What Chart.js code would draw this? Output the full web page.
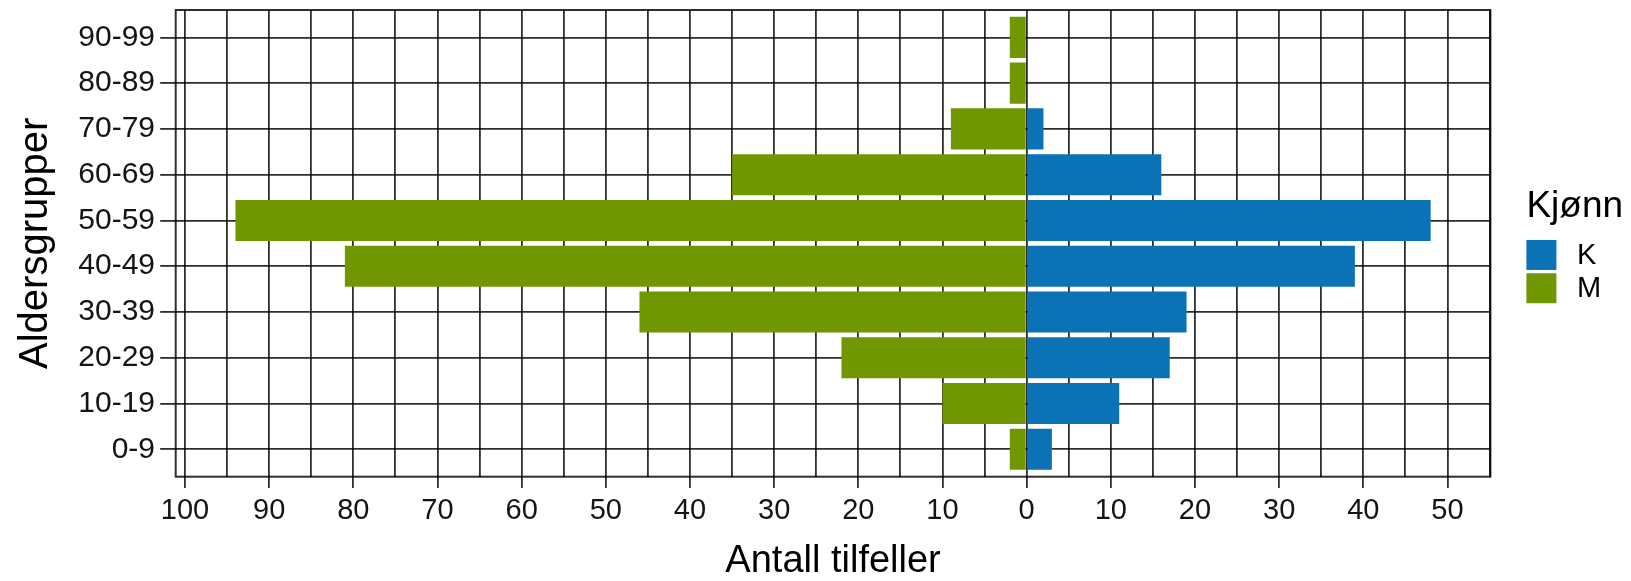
<!DOCTYPE html>
<html>
<head>
<meta charset="utf-8">
<title>Aldersgrupper</title>
<script src="https://cdn.jsdelivr.net/npm/chart.js@4.4.1/dist/chart.umd.min.js"></script>
<style>
    html, body { margin: 0; padding: 0; background: #ffffff; }
    #wrap { width: 1631px; height: 581px; position: relative; }
</style>
</head>
<body>
<div id="wrap"><canvas id="pyramidCanvas"></canvas></div>
<script>
// age groups, bottom to top
const categories = ['0-9', '10-19', '20-29', '30-39', '40-49', '50-59', '60-69', '70-79', '80-89', '90-99'];
// K = women (right side), M = men (left side, shown as negative)
const kValues = [3, 11, 17, 19, 39, 48, 16, 2, 0, 0];
const mValues = [-2, -10, -22, -46, -81, -94, -35, -9, -2, -2];
const seriesLabels = ['K', 'M'];
const legendTitle = 'Kjønn';
// labelled ticks every 10, grid lines every 5
const xTickValues = [-100, -90, -80, -70, -60, -50, -40, -30, -20, -10, 0, 10, 20, 30, 40, 50];
const xGridValues = [-100, -95, -90, -85, -80, -75, -70, -65, -60, -55, -50, -45, -40, -35, -30, -25,
    -20, -15, -10, -5, 0, 5, 10, 15, 20, 25, 30, 35, 40, 45, 50, 55];
const xMin = -101.1;
const xMax = 55.1;

const FONT = '"Liberation Sans", Arial, sans-serif';
const blue = 'rgb(11, 114, 181)';
const green = 'rgb(112, 150, 0)';
const lineColor = 'rgba(0, 0, 0, 0.82)';

Chart.defaults.font.family = FONT;
Chart.defaults.color = '#141414';

// ggplot-like legend on the right
const sideLegend = {
    id: 'sideLegend',
    afterDraw(chart) {
        const { ctx, chartArea } = chart;
        const x0 = chartArea.right + 36;
        const mid = (chartArea.top + chartArea.bottom) / 2;
        ctx.save();
        ctx.fillStyle = '#000';
        ctx.font = '37px ' + FONT;
        ctx.textBaseline = 'alphabetic';
        ctx.fillText(legendTitle, x0, mid - 26.6);
        chart.data.datasets.forEach((ds, i) => {
            const top = mid - 3.4 + i * 33.3;
            ctx.fillStyle = ds.backgroundColor;
            ctx.fillRect(x0, top, 30, 30);
            ctx.fillStyle = '#000';
            ctx.font = '29px ' + FONT;
            ctx.textBaseline = 'middle';
            ctx.fillText(ds.label, x0 + 50.7, top + 16);
        });
        ctx.restore();
    }
};

// full rectangle round the panel
const panelBorder = {
    id: 'panelBorder',
    afterDraw(chart) {
        const { ctx, chartArea } = chart;
        ctx.save();
        ctx.strokeStyle = lineColor;
        ctx.lineWidth = 2;
        ctx.strokeRect(chartArea.left, chartArea.top, chartArea.right - chartArea.left, chartArea.bottom - chartArea.top);
        ctx.restore();
    }
};

let ctx = document.getElementById('pyramidCanvas').getContext('2d');
let pyramidChart = new Chart(ctx, {
    type: 'bar',
    data: {
        datasets: [{
            label: seriesLabels[0],
            data: kValues.map((v, i) => ({ x: v, y: i })),
            backgroundColor: blue,
            borderWidth: 0,
            grouped: false,
            categoryPercentage: 0.9,
            barPercentage: 1
        }, {
            label: seriesLabels[1],
            data: mValues.map((v, i) => ({ x: v, y: i })),
            backgroundColor: green,
            borderWidth: 0,
            grouped: false,
            categoryPercentage: 0.9,
            barPercentage: 1
        }]
    },
    plugins: [panelBorder, sideLegend],
    options: {
        indexAxis: 'y',
        animation: false,
        responsive: true,
        maintainAspectRatio: false,
        layout: {
            padding: { left: 0, top: 10, right: 140.6, bottom: 0 }
        },
        plugins: {
            legend: { display: false },
            tooltip: { enabled: false }
        },
        scales: {
            x: {
                type: 'linear',
                min: xMin,
                max: xMax,
                z: 1,
                offset: false,
                afterBuildTicks: (scale) => { scale.ticks = xGridValues.map(v => ({ value: v })); },
                afterFit: (scale) => { scale.height = 104.3; scale.paddingLeft = 0; scale.paddingRight = 0; },
                border: { display: false },
                grid: {
                    offset: false,
                    color: lineColor,
                    lineWidth: 1.8,
                    tickLength: 11.3,
                    tickWidth: 1.8,
                    tickColor: (c) => (c.tick && xTickValues.includes(c.tick.value)) ? lineColor : 'rgba(0,0,0,0)'
                },
                ticks: {
                    autoSkip: false,
                    maxRotation: 0,
                    padding: 6,
                    font: { size: 29 },
                    callback: (v) => xTickValues.includes(v) ? String(Math.abs(v)) : ''
                },
                title: {
                    display: true,
                    text: 'Antall tilfeller',
                    color: '#000',
                    font: { size: 38, lineHeight: 1 },
                    padding: { top: 0, bottom: 0 }
                }
            },
            y: {
                type: 'linear',
                min: -0.6,
                max: 9.6,
                z: 1,
                offset: false,
                afterBuildTicks: (scale) => { scale.ticks = categories.map((c, i) => ({ value: i })); },
                afterFit: (scale) => { scale.width = 175.7; scale.paddingTop = 0; scale.paddingBottom = 0; },
                border: { display: false },
                grid: {
                    offset: false,
                    color: lineColor,
                    lineWidth: 1.8,
                    tickLength: 15.5,
                    tickWidth: 1.8,
                    tickColor: lineColor
                },
                ticks: {
                    autoSkip: false,
                    padding: 5.2,
                    font: { size: 30 },
                    callback: (v) => categories[v]
                },
                title: {
                    display: true,
                    text: 'Aldersgrupper',
                    color: '#000',
                    font: { size: 40, lineHeight: 1 },
                    padding: { top: 16, bottom: 0 }
                }
            }
        }
    }
});
</script>
</body>
</html>
